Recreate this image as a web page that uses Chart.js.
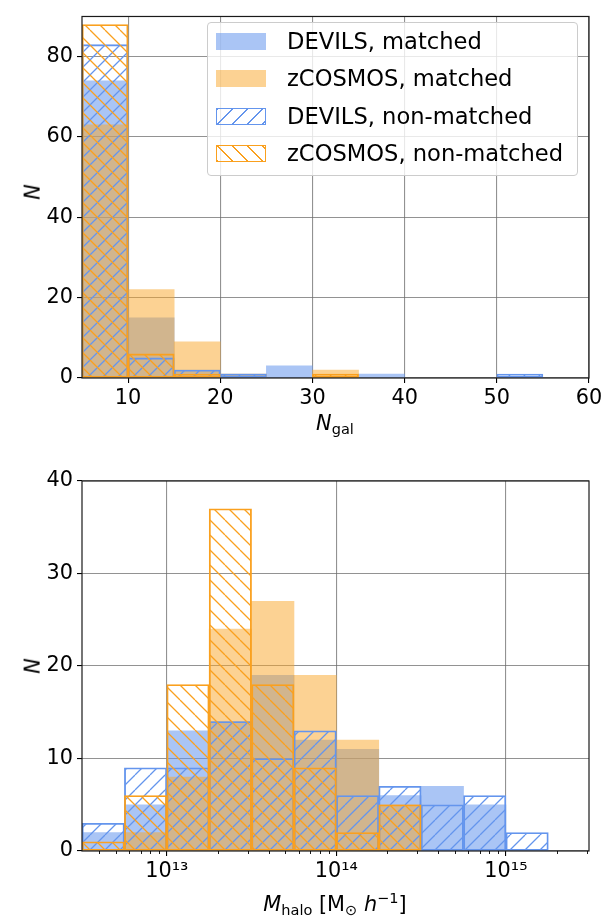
<!DOCTYPE html>
<html>
<head>
<meta charset="utf-8">
<script src="https://cdn.jsdelivr.net/npm/chart.js@4.4.1/dist/chart.umd.min.js"></script>
<style>
  html, body { margin: 0; padding: 0; background: #fff; }
  body { width: 615px; height: 916px; position: relative; overflow: hidden; font-family: "DejaVu Sans", sans-serif; color: #000; }
  canvas { position: absolute; left: 0; }
  .title { position: absolute; font-size: 20.8px; white-space: nowrap; transform: translate(-50%, -50%); line-height: 1; }
  .title.rot { transform: translate(-50%, -50%) rotate(-90deg); }
  .title sub { font-size: 0.7em; vertical-align: -0.3em; font-style: normal; }
  .title sup { font-size: 0.7em; vertical-align: 0.55em; }
  #legend { position: absolute; left: 207px; top: 22px; width: 369px; height: 152px; border: 1px solid #cccccc; border-radius: 4px; background: rgba(255,255,255,0.8); }
  .patch { position: absolute; left: 8px; width: 50px; height: 17px; box-sizing: border-box; }
  .ltext { position: absolute; left: 79px; font-size: 22.6px; white-space: nowrap; line-height: 1; transform: translateY(-50%); }
</style>
</head>
<body>
<canvas id="top" width="615" height="416" style="top:0px"></canvas>
<canvas id="bottom" width="615" height="456" style="top:460px"></canvas>

<div class="title rot" style="left:33px; top:192px;"><i>N</i></div>
<div class="title" style="left:335px; top:425px;"><i>N</i><sub>gal</sub></div>
<div class="title rot" style="left:33px; top:666px;"><i>N</i></div>
<div class="title" style="left:335px; top:904px;"><i>M</i><sub>halo</sub> [M<sub>⊙</sub> <i>h</i><sup>−1</sup>]</div>
<div id="legend"></div>

<script>
// ---------------- data ----------------
const seriesLabels = ['DEVILS, matched', 'zCOSMOS, matched', 'DEVILS, non-matched', 'zCOSMOS, non-matched'];

// Top panel: N_gal histogram (bin edges)
const nGalBinEdges = [5, 10, 15, 20, 25, 30, 35, 40, 45, 50, 55, 60];
const nGalDevilsMatched     = [74, 15, 2, 1, 3, 0, 1, 0, 0, 0, 0];
const nGalZcosmosMatched    = [63, 22, 9, 1, 0, 2, 0, 0, 0, 0, 0];
const nGalDevilsNonMatched  = [83, 5, 2, 1, 0, 0, 0, 0, 0, 1, 0];
const nGalZcosmosNonMatched = [88, 6, 1, 0, 0, 1, 0, 0, 0, 0, 0];
const nGalTicks = [10, 20, 30, 40, 50, 60];
const topCountTicks = [0, 20, 40, 60, 80];

// Bottom panel: M_halo histogram (bin edges in log10 M_halo)
const logMhaloBinEdges = [12.5, 12.75, 13, 13.25, 13.5, 13.75, 14, 14.25, 14.5, 14.75, 15, 15.25];
const mhDevilsMatched     = [2, 5, 13, 14, 19, 12, 11, 6, 7, 5, 0];
const mhZcosmosMatched    = [0, 2, 8, 24, 27, 19, 12, 5, 0, 0, 0];
const mhDevilsNonMatched  = [3, 9, 9, 14, 10, 13, 6, 7, 5, 6, 2];
const mhZcosmosNonMatched = [1, 6, 18, 37, 18, 9, 2, 5, 0, 0, 0];
const mhaloMajorExponents = [13, 14, 15];
const bottomCountTicks = [0, 10, 20, 30, 40];

// ---------------- styles ----------------
const BLUE = 'rgb(100,149,237)';
const ORANGE = 'rgb(250,160,30)';
const BLUE_FILL = 'rgba(100,149,237,0.55)';
const ORANGE_FILL = 'rgba(250,165,40,0.5)';
const GRID = 'rgba(110,110,110,0.75)';
const FONT = { family: 'DejaVu Sans', size: 20.8 };

function hatchPattern(color, dir) {
  const s = 15;
  const c = document.createElement('canvas');
  c.width = s; c.height = s;
  const g = c.getContext('2d');
  g.strokeStyle = color; g.lineWidth = 1.3;
  g.beginPath();
  for (let k = -1; k <= 1; k++) {
    if (dir === '/') { g.moveTo(k * s, s); g.lineTo(k * s + s, 0); }
    else { g.moveTo(k * s, 0); g.lineTo(k * s + s, s); }
  }
  g.stroke();
  return g.createPattern(c, 'repeat');
}

function linCenters(edges) { return edges.slice(0, -1).map((e, i) => (e + edges[i + 1]) / 2); }
function logCenters(edges) { return edges.slice(0, -1).map((e, i) => Math.pow(10, (e + edges[i + 1]) / 2)); }
function points(xs, counts) {
  return counts.map((c, i) => ({ x: xs[i], y: c === 0 ? null : c }));
}

function makeDatasets(xs, dm, zm, dn, zn) {
  const common = { barPercentage: 1, categoryPercentage: 1, grouped: false };
  return [
    Object.assign({ label: seriesLabels[0], data: points(xs, dm), backgroundColor: BLUE_FILL, borderWidth: 0, order: 4 }, common),
    Object.assign({ label: seriesLabels[1], data: points(xs, zm), backgroundColor: ORANGE_FILL, borderWidth: 0, order: 3 }, common),
    Object.assign({ label: seriesLabels[2], data: points(xs, dn), backgroundColor: hatchPattern(BLUE, '/'), borderColor: BLUE, borderWidth: 1.2, borderSkipped: false, order: 2 }, common),
    Object.assign({ label: seriesLabels[3], data: points(xs, zn), backgroundColor: hatchPattern(ORANGE, '\\'), borderColor: ORANGE, borderWidth: 1.2, borderSkipped: false, order: 1 }, common)
  ];
}

const framePlugin = {
  id: 'frame',
  afterDatasetsDraw(chart) {
    const a = chart.chartArea, ctx = chart.ctx;
    ctx.save();
    ctx.strokeStyle = '#1a1a1a';
    ctx.lineWidth = 1.2;
    ctx.strokeRect(a.left, a.top, a.right - a.left, a.bottom - a.top);
    ctx.restore();
  }
};

function gridOpts() {
  return { color: GRID, lineWidth: 1.1, drawTicks: true, tickLength: 5, tickColor: '#000', tickWidth: 1.1, offset: false };
}

// ---------------- top chart ----------------
new Chart(document.getElementById('top'), {
  type: 'bar',
  data: { datasets: makeDatasets(linCenters(nGalBinEdges), nGalDevilsMatched, nGalZcosmosMatched, nGalDevilsNonMatched, nGalZcosmosNonMatched) },
  options: {
    responsive: false, animation: false, devicePixelRatio: 1,
    layout: { autoPadding: false, padding: { top: 7, right: 26, left: 0, bottom: 0 } },
    plugins: { legend: { display: false }, tooltip: { enabled: false } },
    scales: {
      x: {
        type: 'linear', min: nGalBinEdges[0], max: nGalBinEdges[nGalBinEdges.length - 1], offset: false,
        afterBuildTicks: s => { s.ticks = nGalTicks.map(v => ({ value: v })); },
        afterFit: s => { s.height = 38; },
        grid: gridOpts(), border: { display: false },
        ticks: { font: FONT, color: '#000', padding: 3, maxRotation: 0, autoSkip: false }
      },
      y: {
        min: 0, max: 90,
        afterBuildTicks: s => { s.ticks = topCountTicks.map(v => ({ value: v })); },
        afterFit: s => { s.width = 82; },
        grid: gridOpts(), border: { display: false },
        ticks: { font: FONT, color: '#000', padding: 4 }
      }
    }
  },
  plugins: [framePlugin]
});

// ---------------- bottom chart ----------------
const logMin = Math.pow(10, 12.5), logMax = Math.pow(10, 15.49);
const supMap = { '0': '⁰', '1': '¹', '2': '²', '3': '³', '4': '⁴', '5': '⁵', '6': '⁶', '7': '⁷', '8': '⁸', '9': '⁹', '-': '⁻' };

// minor tick marks of the log axis, placed through the axis scale
const minorTickPlugin = {
  id: 'minorTicks',
  afterDatasetsDraw(chart) {
    const sx = chart.scales.x, a = chart.chartArea, ctx = chart.ctx;
    ctx.save();
    ctx.strokeStyle = '#000'; ctx.lineWidth = 0.9;
    ctx.beginPath();
    for (let e = 12; e <= 15; e++) {
      for (let k = 2; k <= 9; k++) {
        const v = k * Math.pow(10, e);
        if (v < logMin || v > logMax) continue;
        const px = Math.round(sx.getPixelForValue(v)) + 0.5;
        ctx.moveTo(px, a.bottom); ctx.lineTo(px, a.bottom + 3);
      }
    }
    ctx.stroke();
    ctx.restore();
  }
};

new Chart(document.getElementById('bottom'), {
  type: 'bar',
  data: { datasets: makeDatasets(logCenters(logMhaloBinEdges), mhDevilsMatched, mhZcosmosMatched, mhDevilsNonMatched, mhZcosmosNonMatched) },
  options: {
    responsive: false, animation: false, devicePixelRatio: 1,
    layout: { autoPadding: false, padding: { top: 21, right: 26, left: 0, bottom: 0 } },
    plugins: { legend: { display: false }, tooltip: { enabled: false } },
    scales: {
      x: {
        type: 'logarithmic', min: logMin, max: logMax, offset: false,
        afterBuildTicks: s => { s.ticks = mhaloMajorExponents.map(e => ({ value: Math.pow(10, e), major: true })); },
        afterFit: s => { s.height = 65; },
        grid: gridOpts(),
        border: { display: false },
        ticks: {
          font: FONT, color: '#000', padding: 3, maxRotation: 0, autoSkip: false,
          callback: function (v) {
            const e = String(Math.round(Math.log10(v)));
            return '10' + e.split('').map(c => supMap[c]).join('');
          }
        }
      },
      y: {
        min: 0, max: 40,
        afterBuildTicks: s => { s.ticks = bottomCountTicks.map(v => ({ value: v })); },
        afterFit: s => { s.width = 82; },
        grid: gridOpts(), border: { display: false },
        ticks: { font: FONT, color: '#000', padding: 4 }
      }
    }
  },
  plugins: [framePlugin, minorTickPlugin]
});

// ---------------- legend (HTML, real text) ----------------
const legendStyles = [
  'background:' + BLUE_FILL + ';',
  'background:' + ORANGE_FILL + ';',
  'border:1.2px solid ' + BLUE + ';background:repeating-linear-gradient(135deg,' + BLUE + ' 0 1px, rgba(255,255,255,0) 1px 10.6px);',
  'border:1.2px solid ' + ORANGE + ';background:repeating-linear-gradient(45deg,' + ORANGE + ' 0 1px, rgba(255,255,255,0) 1px 10.6px);'
];
const rowCenters = [18, 55, 93, 130];
const legend = document.getElementById('legend');
seriesLabels.forEach((lab, i) => {
  const p = document.createElement('div');
  p.className = 'patch';
  p.style.cssText = legendStyles[i] + 'top:' + (rowCenters[i] - 8.5) + 'px;';
  legend.appendChild(p);
  const t = document.createElement('div');
  t.className = 'ltext';
  t.style.top = rowCenters[i] + 'px';
  t.textContent = lab;
  legend.appendChild(t);
});
</script>
</body>
</html>
